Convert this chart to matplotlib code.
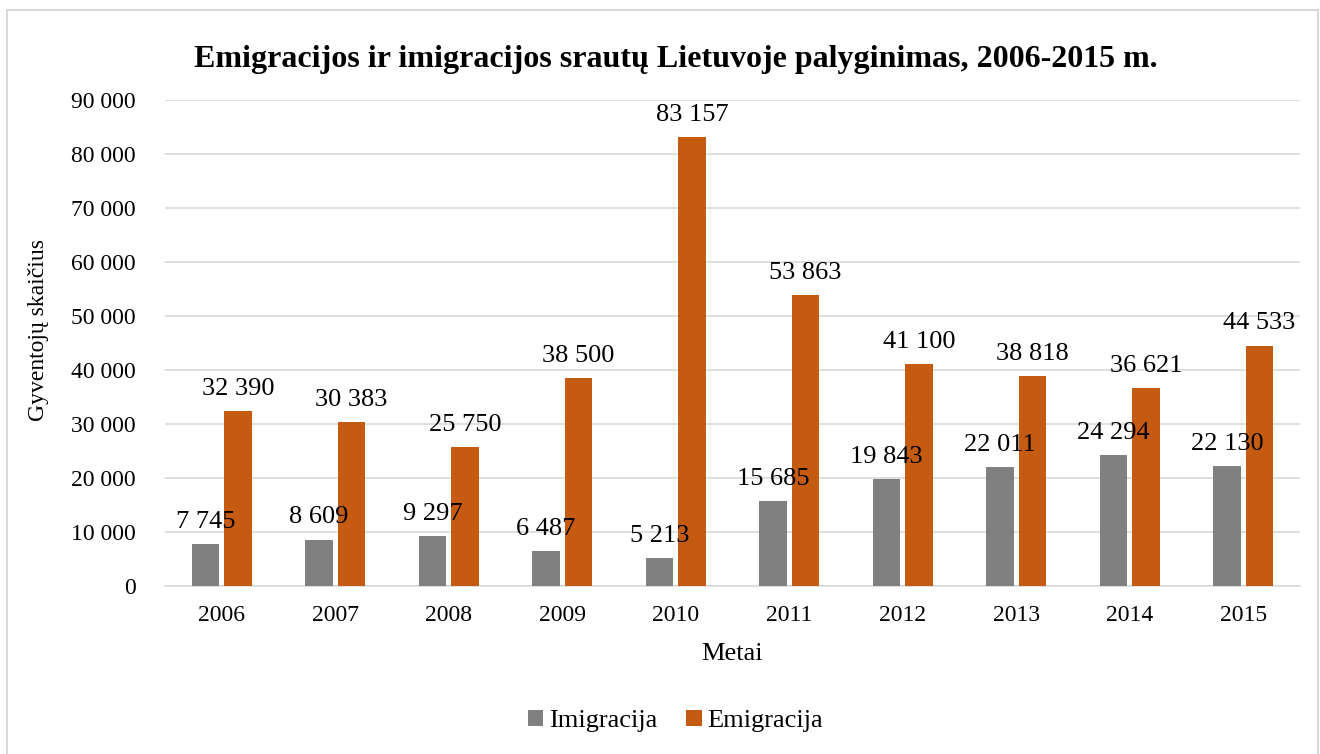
import matplotlib.pyplot as plt
import numpy as np
from matplotlib.patches import Rectangle

years = ['2006', '2007', '2008', '2009', '2010', '2011', '2012', '2013', '2014', '2015']
imigracija = [7745, 8609, 9297, 6487, 5213, 15685, 19843, 22011, 24294, 22130]
emigracija = [32390, 30383, 25750, 38500, 83157, 53863, 41100, 38818, 36621, 44533]
yticks = [0, 10000, 20000, 30000, 40000, 50000, 60000, 70000, 80000, 90000]

gray = '#808080'
orange = '#C55A11'
grid_col = '#D9D9D9'


def fmt(v):
    # thousands separated by a space, like the original
    return f'{v:,}'.replace(',', ' ')


plt.rcParams['font.family'] = ['Liberation Serif', 'DejaVu Serif']

fig = plt.figure(figsize=(13.2, 7.54), dpi=100)
fig.patches.append(Rectangle((7 / 1320, -0.05), 1311 / 1320, 1.05 - 10 / 754,
                             transform=fig.transFigure, fill=False,
                             edgecolor='#D9D9D9', linewidth=1.5))

ax = fig.add_axes([165 / 1320, (754 - 586) / 754, 1135 / 1320, 486 / 754])

x = np.arange(len(years))
w = 0.245
off = 0.143
b1 = ax.bar(x - off, imigracija, w, color=gray, label='Imigracija', zorder=3)
b2 = ax.bar(x + off, emigracija, w, color=orange, label='Emigracija', zorder=3)

for bars, vals in ((b1, imigracija), (b2, emigracija)):
    for rect, v in zip(bars, vals):
        ax.annotate(fmt(v), (rect.get_x() + rect.get_width() / 2, v),
                    xytext=(0, 8), textcoords='offset points',
                    ha='center', va='bottom', fontsize=19, zorder=4)

ax.set_xlim(-0.5, len(years) - 0.5)
ax.set_ylim(0, 90000)
ax.set_yticks(yticks)
ax.set_yticklabels([fmt(v) for v in yticks])
ax.set_xticks(x)
ax.set_xticklabels(years)
ax.tick_params(axis='y', length=0, labelsize=17, pad=21)
ax.tick_params(axis='x', length=0, labelsize=17, pad=14)
ax.grid(axis='y', color=grid_col, linewidth=1.2, zorder=0)
for s in ['top', 'right', 'left']:
    ax.spines[s].set_visible(False)
ax.spines['bottom'].set_color(grid_col)
ax.spines['bottom'].set_linewidth(1.2)

ax.set_xlabel('Metai', fontsize=19, labelpad=12)
ax.set_ylabel('Gyventojų skaičius', fontsize=17)
ax.yaxis.set_label_coords(-0.102, 0.527)

fig.text(0.512, 1 - 60 / 754, 'Emigracijos ir imigracijos srautų Lietuvoje palyginimas, 2006-2015 m.',
         ha='center', va='center', fontsize=23, fontweight='bold')

fig.legend(handles=[b1, b2], loc='center', bbox_to_anchor=(0.5115, 1 - 721 / 754),
           ncol=2, frameon=False, fontsize=19, handlelength=0.6, handleheight=0.6,
           handletextpad=0.2, columnspacing=1.1)

fig.savefig('out.png', dpi=100)
